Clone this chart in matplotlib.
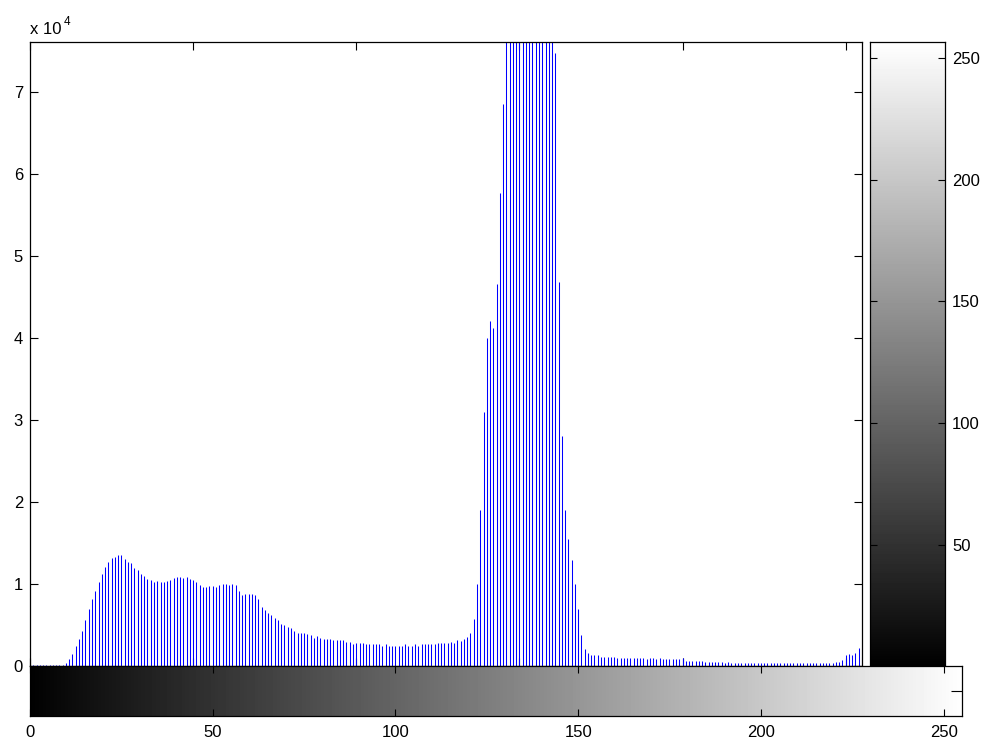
import numpy as np
import matplotlib
matplotlib.use('Agg')
import matplotlib.pyplot as plt

plt.rcParams['font.family'] = ['Liberation Sans', 'DejaVu Sans']

# ---------------- data ----------------
bins = np.arange(256)
counts = [
    # 0-10
    60, 50, 60, 40, 60, 60, 50, 40, 30, 60, 100,
    # 11-20
    280, 770, 1420, 2430, 3240, 4290, 5630, 6970, 8100, 9150,
    # 21-30
    10170, 11140, 11990, 12680, 13160, 13320, 13530, 13530, 13000, 12680,
    # 31-40
    12470, 11950, 11620, 11140, 10980, 10610, 10410, 10170, 10290, 10170,
    # 41-50
    10170, 10330, 10490, 10650, 10810, 10810, 10650, 10810, 10610, 10490,
    # 51-60
    10170, 9800, 9640, 9640, 9760, 9760, 9640, 9800, 10000, 10000,
    # 61-70
    9840, 10000, 9800, 9150, 8670, 8790, 8790, 8790, 8630, 8100,
    # 71-80
    7130, 6760, 6440, 6160, 5870, 5590, 5140, 4940, 4780, 4620,
    # 81-90
    4290, 3970, 3970, 3970, 3810, 3770, 3440, 3600, 3440, 3240,
    # 91-100
    3240, 3240, 3080, 3080, 3080, 3080, 2920, 2920, 2590, 2750,
    # 101-110
    2750, 2750, 2590, 2590, 2590, 2590, 2590, 2430, 2590, 2430,
    # 111-120
    2430, 2430, 2430, 2430, 2590, 2430, 2430, 2590, 2430, 2590,
    # 121-130
    2590, 2590, 2590, 2590, 2750, 2750, 2750, 2750, 2920, 2750,
    # 131-140
    3080, 3000, 3300, 3500, 4050, 5700, 10000, 19000, 31000, 40000,
    # 141-150
    42000, 41200, 46600, 57700, 68500, 82000, 95000, 105000, 112000, 118000,
    # 151-160
    121000, 122000, 120000, 116000, 110000, 103000, 95000, 88000, 82000, 78000,
    # 161-170
    74800, 46800, 28000, 19000, 15500, 12900, 10000, 6900, 3750, 2000,
    # 171-180
    1550, 1300, 1300, 1300, 1060, 1060, 1060, 1060, 1060, 940,
    # 181-190
    940, 940, 940, 940, 940, 940, 940, 940, 770, 940,
    # 191-200
    940, 770, 940, 770, 770, 770, 770, 770, 770, 940,
    # 201-210
    610, 610, 610, 610, 610, 530, 450, 450, 450, 450,
    # 211-220
    450, 450, 285, 450, 285, 285, 285, 285, 285, 285,
    # 221-230
    285, 285, 285, 285, 285, 285, 285, 285, 285, 285,
    # 231-240
    285, 285, 285, 285, 285, 285, 285, 285, 285, 285,
    # 241-250
    285, 285, 285, 285, 285, 285, 450, 450, 690, 1260,
    # 251-255
    1470, 1260, 1590, 2120, 1020,
]

y_ticks = [0, 10000, 20000, 30000, 40000, 50000, 60000, 70000]
y_tick_labels = ['0', '1', '2', '3', '4', '5', '6', '7']
x_ticks = [0, 50, 100, 150, 200, 250]
x_tick_labels = ['0', '50', '100', '150', '200', '250']
cbar_ticks = [50, 100, 150, 200, 250]
cbar_tick_labels = ['50', '100', '150', '200', '250']
gray_levels = np.arange(1, 257)

# ---------------- layout ----------------
W, H = 982, 740
fig = plt.figure(figsize=(W / 100, H / 100), dpi=100)
fig.patch.set_facecolor('white')


def rect(x0, y0, x1, y1):
    return [x0 / W, 1 - y1 / H, (x1 - x0) / W, (y1 - y0) / H]


FS = 12

# main histogram axes
ax = fig.add_axes(rect(30, 42, 862, 665.7))
ax.vlines(bins, 0, counts, colors='#0000ff', linewidth=0.75)
ax.set_xlim(0, 255)
ax.set_ylim(0, 76100)
ax.set_yticks(y_ticks)
ax.set_yticklabels(y_tick_labels)
ax.set_xticks(x_ticks)
ax.tick_params(axis='both', direction='in', length=6, width=0.8,
               top=True, right=True, labelbottom=False, labelsize=FS,
               pad=5, colors='black')
for s in ax.spines.values():
    s.set_linewidth(0.9)
    s.set_color('black')

fig.text(30 / W, 1 - 34 / H, 'x 10', fontsize=FS, ha='left', va='baseline')
fig.text(63.5 / W, 1 - 25 / H, '4', fontsize=8.5, ha='left', va='baseline')

# right vertical colorbar
cax = fig.add_axes(rect(870, 42, 945, 665.7))
cax.imshow(gray_levels.reshape(-1, 1), cmap='gray', origin='lower',
           extent=[0, 1, 0.5, 256.5], aspect='auto', interpolation='nearest',
           vmin=1, vmax=256)
cax.set_xlim(0, 1)
cax.set_ylim(0.5, 256.5)
cax.set_xticks([])
cax.set_yticks(cbar_ticks)
cax.set_yticklabels(cbar_tick_labels)
cax.yaxis.tick_right()
cax.tick_params(axis='y', direction='in', length=5, width=0.8, left=True,
                right=True, labelleft=False, labelright=True, labelsize=FS,
                pad=5)
for s in cax.spines.values():
    s.set_linewidth(0.9)

# bottom horizontal colorbar
bax = fig.add_axes(rect(30, 665.7, 962, 716))
bax.imshow(gray_levels.reshape(1, -1), cmap='gray', origin='lower',
           extent=[-0.5, 255.5, 0, 1], aspect='auto', interpolation='nearest',
           vmin=1, vmax=256)
bax.set_xlim(0, 255)
bax.set_ylim(0, 1)
bax.set_xticks(x_ticks)
bax.set_xticklabels(x_tick_labels)
bax.set_yticks([0.5])
bax.set_yticklabels([])
bax.tick_params(axis='x', direction='in', length=5, width=0.8, top=True,
                bottom=True, labelsize=FS, pad=6.5)
bax.tick_params(axis='y', direction='in', length=8, width=0.8, left=False,
                right=True)
for s in bax.spines.values():
    s.set_linewidth(0.9)

fig.savefig('out.png', dpi=100, facecolor='white')
